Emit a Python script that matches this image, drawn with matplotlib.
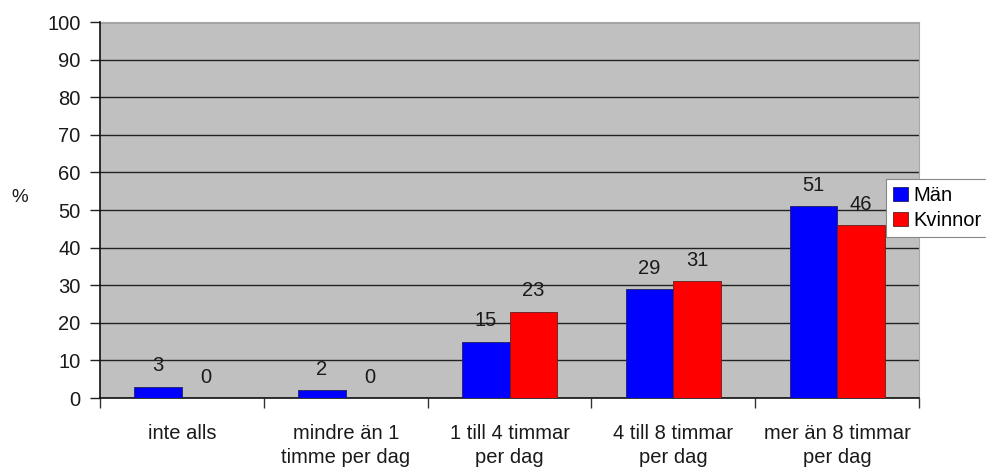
import matplotlib
matplotlib.use("Agg")
import matplotlib.pyplot as plt
import numpy as np

plt.rcParams['font.family'] = ['Liberation Sans', 'DejaVu Sans']

categories = ["inte alls", "mindre än 1\ntimme per dag", "1 till 4 timmar\nper dag",
              "4 till 8 timmar\nper dag", "mer än 8 timmar\nper dag"]
man = [3, 2, 15, 29, 51]
kvinnor = [0, 0, 23, 31, 46]
series_names = ["Män", "Kvinnor"]
yticks = list(range(0, 101, 10))

FS = 14.5
TC = '#1a1a1a'

fig = plt.figure(figsize=(9.86, 4.68), dpi=100)
ax = fig.add_axes([100/986, 1-398/468, (919-100)/986, (398-22)/468])
ax.set_facecolor('#C0C0C0')

x = np.arange(len(categories))
w = 0.29
b1 = ax.bar(x - w/2, man, w, color='#0000FF', edgecolor='#202060', linewidth=0.6, label=series_names[0], zorder=3)
b2 = ax.bar(x + w/2, kvinnor, w, color='#FF0000', edgecolor='#602020', linewidth=0.6, label=series_names[1], zorder=3)

for bars, vals in ((b1, man), (b2, kvinnor)):
    for r, v in zip(bars, vals):
        ax.annotate(str(v), (r.get_x() + r.get_width()/2, v), xytext=(0, 15),
                    textcoords='offset points', ha='center', va='center',
                    fontsize=FS, color=TC, zorder=4)

ax.set_xlim(-0.5, len(categories) - 0.5)
ax.set_ylim(0, 100)
ax.set_yticks(yticks)
ax.set_yticklabels([str(t) for t in yticks], fontsize=FS, color=TC)
ax.set_xticks(x)
ax.set_xticklabels(categories, fontsize=FS, color=TC, linespacing=1.32)
ax.set_xticks(np.arange(-0.5, len(categories)), minor=True)
ax.tick_params(axis='x', which='major', length=0, pad=19)
ax.tick_params(axis='x', which='minor', length=7, width=1, direction='out', color='#333333')
ax.tick_params(axis='y', length=7, width=1, direction='out', pad=7, color='#222222')

ax.yaxis.grid(True, color='#222222', linewidth=1, zorder=1)
ax.set_axisbelow(True)
for s in ('top', 'right'):
    ax.spines[s].set_color('#A8A8A8')
    ax.spines[s].set_linewidth(0.8)
for s in ('left', 'bottom'):
    ax.spines[s].set_color('#111111')
    ax.spines[s].set_linewidth(1.2)
ax.spines['left'].set_zorder(5)

ax.set_ylabel('%', rotation=0, fontsize=FS - 1, color=TC, va='center', ha='center')
ax.yaxis.set_label_coords(-80/819, (398-198)/376)

leg = fig.legend(handles=[b1, b2], labels=series_names, loc='upper left',
                 bbox_to_anchor=(886/986, 1-179/468), frameon=True, fancybox=False,
                 fontsize=FS, handlelength=0.75, handleheight=0.75, handletextpad=0.25,
                 borderpad=0.35, labelspacing=0.3, borderaxespad=0, framealpha=1)
leg.get_frame().set_edgecolor('#888888')
leg.get_frame().set_linewidth(0.8)

fig.savefig('out.png', dpi=100)
